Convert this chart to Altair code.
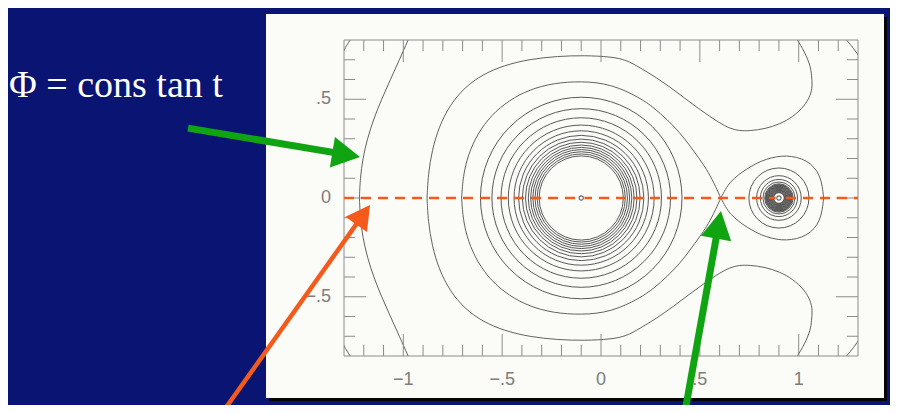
import math

import altair as alt
import pandas as pd

# --- values (Roche equipotentials, mass ratio ~0.1) ---
X_DOMAIN = [-1.3, 1.3]
Y_DOMAIN = [-0.8, 0.8]

primary_x = -0.1
secondary_x = 0.9

# radii of the nearly circular equipotentials round each star
primary_rings = [0.51, 0.452, 0.406, 0.369, 0.34, 0.317, 0.298, 0.282, 0.268,
                 0.256, 0.245, 0.234, 0.223, 0.213]
secondary_rings = [0.152, 0.113, 0.094, 0.081, 0.072, 0.068, 0.065, 0.062, 0.059,
                   0.056, 0.053, 0.05, 0.047, 0.044, 0.041, 0.038, 0.035, 0.032,
                   0.029, 0.027]

# upper halves of the other equipotentials (lower halves are their mirror image)
outer_x = [-1.222, -1.218, -1.205, -1.182, -1.15, -1.11, -1.065, -1.02, -0.975, -0.96]
outer_y = [0.0, 0.1, 0.2, 0.3, 0.4, 0.5, 0.6, 0.7, 0.8, 0.84]

common_x = [-0.88, -0.874, -0.855, -0.82, -0.765, -0.69, -0.6, -0.49, -0.36, -0.22, -0.08,
            0.05, 0.127, 0.197, 0.28, 0.365, 0.45, 0.534, 0.60, 0.652, 0.70, 0.753, 0.83,
            0.904, 0.97, 1.03, 1.06, 1.07, 1.065, 1.06, 1.03, 0.99, 0.975]
common_y = [0.0, 0.12, 0.24, 0.36, 0.47, 0.56, 0.625, 0.672, 0.703, 0.718, 0.722,
            0.715, 0.70, 0.66, 0.61, 0.55, 0.485, 0.424, 0.38, 0.352, 0.34, 0.34, 0.35,
            0.374, 0.41, 0.466, 0.52, 0.567, 0.62, 0.668, 0.74, 0.806, 0.83]

lobe1_x = [-0.705, -0.698, -0.672, -0.625, -0.555, -0.465, -0.36, -0.24, -0.1, 0.05, 0.197,
           0.27, 0.332, 0.40, 0.45, 0.50, 0.534, 0.57, 0.606]
lobe1_y = [0.0, 0.11, 0.22, 0.325, 0.42, 0.495, 0.55, 0.582, 0.592, 0.578, 0.508,
           0.455, 0.40, 0.33, 0.264, 0.195, 0.146, 0.08, 0.0]

lobe2_x = [0.606, 0.63, 0.652, 0.70, 0.736, 0.79, 0.837, 0.89, 0.938, 0.99, 1.04,
           1.08, 1.106, 1.12, 1.126]
lobe2_y = [0.0, 0.045, 0.079, 0.122, 0.146, 0.178, 0.197, 0.21, 0.214, 0.207, 0.189,
           0.155, 0.113, 0.06, 0.0]

corner_left_x = [-1.31, -1.30, -1.285, -1.268, -1.26]
corner_left_y = [0.72, 0.75, 0.775, 0.80, 0.82]
corner_right_x = [1.23, 1.236, 1.26, 1.293, 1.31]
corner_right_y = [0.82, 0.806, 0.78, 0.736, 0.71]

# axis ticks and labels
x_minor = [-1.2, -1.1, -0.9, -0.8, -0.7, -0.6, -0.4, -0.3, -0.2, -0.1,
           0.1, 0.2, 0.3, 0.4, 0.6, 0.7, 0.8, 0.9, 1.1, 1.2]
x_major = [-1, -0.5, 0, 0.5, 1]
y_minor = [-0.7, -0.6, -0.4, -0.3, -0.2, -0.1, 0.1, 0.2, 0.3, 0.4, 0.6, 0.7]
y_major = [-0.5, 0, 0.5]
x_label_values = [-1, -0.5, 0, 0.5, 1]
x_label_text = ['\u22121', '\u2212.5', '0', '.5', '1']
y_label_values = [0.5, 0, -0.5]
y_label_text = ['.5', '0', '\u2212.5']

# slide annotations: arrows from tail to tip, in data units
arrow_tail_x = [-2.089, -1.917, 0.430]
arrow_tail_y = [0.354, -1.089, -1.053]
arrow_tip_x = [-1.219, -1.168, 0.607]
arrow_tip_y = [0.208, -0.035, -0.066]
phi_label = '\u03a6 = cons tan t'

# --- styles ---
W, H = 514, 316
PX = W / (X_DOMAIN[1] - X_DOMAIN[0])
PY = H / (Y_DOMAIN[1] - Y_DOMAIN[0])
NAVY = '#0a1473'
PAPER = '#fbfbf8'
LINE = '#505050'
FRAME = '#8c8c8c'
GREEN = '#10a312'
ORANGE = '#f45a1c'
arrow_colors = [GREEN, ORANGE, GREEN]
arrow_widths = [7, 4.5, 7]
arrow_heads = [28, 24, 28]
HEAD_PATH = 'M0,0 L-0.55,1 L0.55,1 Z'

x_scale = alt.Scale(domain=X_DOMAIN, nice=False, zero=False)
y_scale = alt.Scale(domain=Y_DOMAIN, nice=False, zero=False)


def xenc(field):
    return alt.X(f'{field}:Q', scale=x_scale, axis=None)


def yenc(field):
    return alt.Y(f'{field}:Q', scale=y_scale, axis=None)


# --- tables ---
curves = [
    ('outer', outer_x, outer_y),
    ('common', common_x, common_y),
    ('lobe1', lobe1_x, lobe1_y),
    ('lobe2', lobe2_x, lobe2_y),
    ('corner_left', corner_left_x, corner_left_y),
    ('corner_right', corner_right_x, corner_right_y),
]
rows = []
for name, xs, ys in curves:
    for half, sign in (('upper', 1), ('lower', -1)):
        for i, (x, y) in enumerate(zip(xs, ys)):
            rows.append({'curve': f'{name}-{half}', 'i': i, 'x': x, 'y': sign * y})
df_curves = pd.DataFrame(rows)

df_rings = pd.DataFrame({
    'cx': [primary_x] * len(primary_rings) + [secondary_x] * len(secondary_rings),
    'cy': 0.0,
    'r': primary_rings + secondary_rings,
})

# --- layers ---
panel_shadow = alt.Chart(pd.DataFrame({'a': [0]})).mark_rect(color='#050505').encode(
    x=alt.value(-75), x2=alt.value(543), y=alt.value(-23), y2=alt.value(361)
)
panel = alt.Chart(pd.DataFrame({'a': [0]})).mark_rect(color=PAPER).encode(
    x=alt.value(-78), x2=alt.value(540), y=alt.value(-26), y2=alt.value(358)
)

contours = alt.Chart(df_curves).mark_line(
    color=LINE, strokeWidth=0.9, interpolate='basis', clip=True
).encode(
    x=xenc('x'), y=yenc('y'), detail='curve:N', order='i:Q'
)

rings = alt.Chart(df_rings).mark_point(
    shape='circle', filled=False, color=LINE, strokeWidth=0.95, opacity=1
).encode(
    x=xenc('cx'), y=yenc('cy'),
    size=alt.Size('r:Q', legend=None,
                  scale=alt.Scale(type='pow', exponent=2, domain=[0, 1], nice=False,
                                  range=[0, (PX + PY) ** 2]))
)


def tick_layer(values, side, length):
    rule = alt.Chart(pd.DataFrame({'v': values})).mark_rule(color=FRAME, strokeWidth=1)
    if side == 'bottom':
        return rule.encode(x=xenc('v'), y=alt.value(H), y2=alt.value(H - length))
    if side == 'top':
        return rule.encode(x=xenc('v'), y=alt.value(0), y2=alt.value(length))
    if side == 'left':
        return rule.encode(y=yenc('v'), x=alt.value(0), x2=alt.value(length))
    return rule.encode(y=yenc('v'), x=alt.value(W), x2=alt.value(W - length))


ticks = []
for side in ('bottom', 'top'):
    ticks += [tick_layer(x_minor, side, 11), tick_layer(x_major, side, 22)]
for side in ('left', 'right'):
    ticks += [tick_layer(y_minor, side, 11), tick_layer(y_major, side, 22)]

frame = alt.Chart(pd.DataFrame({'a': [0]})).mark_rect(
    fillOpacity=0, stroke=FRAME, strokeWidth=1
).encode(x=alt.value(0), x2=alt.value(W), y=alt.value(0), y2=alt.value(H))

x_labels = alt.Chart(pd.DataFrame({'v': x_label_values, 't': x_label_text})).mark_text(
    font='Liberation Sans', fontSize=18, color='#7d7d7d', baseline='middle'
).encode(x=xenc('v'), y=alt.value(H + 24), text='t:N')

y_labels = alt.Chart(pd.DataFrame({'v': y_label_values, 't': y_label_text})).mark_text(
    font='Liberation Sans', fontSize=18, color='#7d7d7d', baseline='middle', align='right'
).encode(x=alt.value(-13), y=yenc('v'), text='t:N')

axis_line = alt.Chart(pd.DataFrame({'x': [X_DOMAIN[0]], 'x2': [X_DOMAIN[1]], 'y': [0.0]})).mark_rule(
    color=ORANGE, strokeWidth=2.6, strokeDash=[10, 7]
).encode(x=xenc('x'), x2='x2:Q', y=yenc('y'))

star_df = pd.DataFrame({'x': [primary_x, secondary_x], 'y': [0.0, 0.0]})
star_fill = alt.Chart(star_df).mark_point(
    shape='circle', filled=True, color=PAPER, size=45, opacity=1
).encode(x=xenc('x'), y=yenc('y'))
star_mark = alt.Chart(star_df).mark_point(
    shape='circle', filled=False, color='#666666', size=18, strokeWidth=1.1, opacity=1
).encode(x=xenc('x'), y=yenc('y'))

arrows = []
for i in range(len(arrow_tip_x)):
    dx = (arrow_tip_x[i] - arrow_tail_x[i]) * PX
    dy = (arrow_tip_y[i] - arrow_tail_y[i]) * PY
    length = math.hypot(dx, dy)
    keep = 1 - 0.6 * arrow_heads[i] / length
    df_arrow = pd.DataFrame({
        'x0': [arrow_tail_x[i]], 'y0': [arrow_tail_y[i]],
        'x1': [arrow_tail_x[i] + keep * (arrow_tip_x[i] - arrow_tail_x[i])],
        'y1': [arrow_tail_y[i] + keep * (arrow_tip_y[i] - arrow_tail_y[i])],
        'tx': [arrow_tip_x[i]], 'ty': [arrow_tip_y[i]],
    })
    shaft = alt.Chart(df_arrow).mark_rule(
        color=arrow_colors[i], strokeWidth=arrow_widths[i]
    ).encode(x=xenc('x0'), y=yenc('y0'), x2='x1:Q', y2='y1:Q')
    head = alt.Chart(df_arrow).mark_point(
        shape=HEAD_PATH, filled=True, opacity=1, color=arrow_colors[i], strokeWidth=0,
        size=(2 * arrow_heads[i]) ** 2,
        angle=math.degrees(math.atan2(dx, dy)) % 360
    ).encode(x=xenc('tx'), y=yenc('ty'))
    arrows += [shaft, head]

phi_text = alt.Chart(pd.DataFrame({'t': [phi_label]})).mark_text(
    font='Liberation Serif', fontSize=38, color='white', align='left', baseline='alphabetic'
).encode(x=alt.value(-335), y=alt.value(57), text='t:N')

chart = alt.layer(
    panel_shadow, panel, contours, rings, *ticks, frame, x_labels, y_labels,
    axis_line, star_fill, star_mark, *arrows, phi_text
).properties(
    width=W, height=H, background=NAVY,
    padding={'left': 336, 'top': 32, 'right': 32, 'bottom': 49},
    autosize=alt.AutoSizeParams(type='none')
).configure_view(strokeWidth=0)

chart.save('out.html', embed_options={'renderer': 'svg', 'actions': False})
